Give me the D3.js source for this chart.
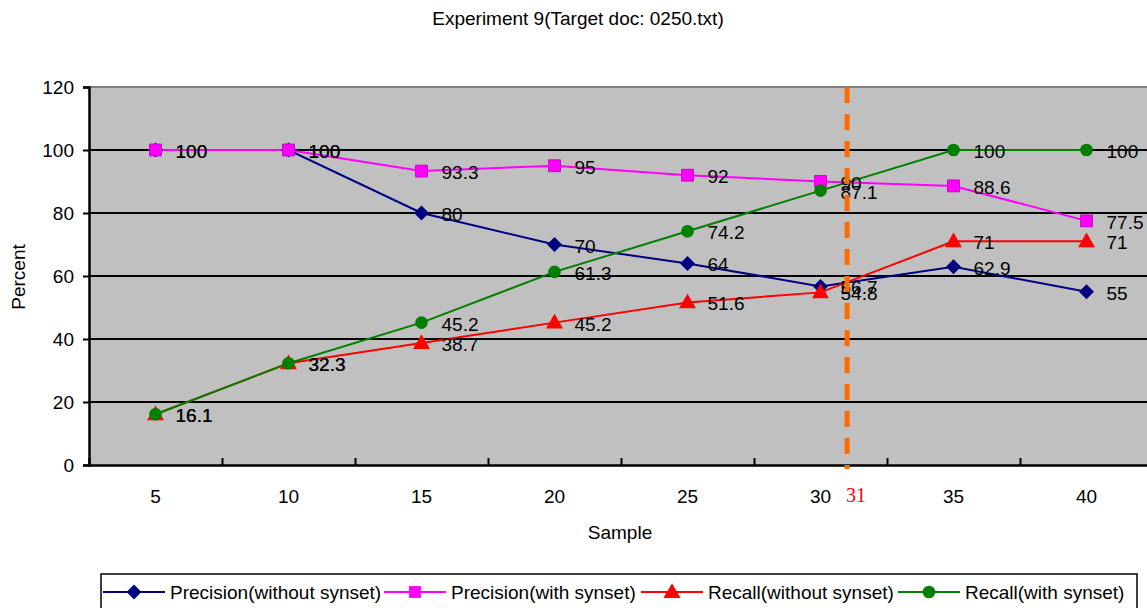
<!DOCTYPE html>
<html>
<head>
<meta charset="utf-8">
<script src="https://cdn.jsdelivr.net/npm/d3@7"></script>
<style>
  body { margin: 0; background: #fff; }
  text { font-family: "Liberation Sans", Arial, sans-serif; }
</style>
</head>
<body>
<svg id="chart" width="1147" height="608"></svg>
<script>
// chart data
var samples = [5, 10, 15, 20, 25, 30, 35, 40];
var precisionWithout = [100, 100, 80, 70, 64, 56.7, 62.9, 55];
var precisionWith = [100, 100, 93.3, 95, 92, 90, 88.6, 77.5];
var recallWithout = [16.1, 32.3, 38.7, 45.2, 51.6, 54.8, 71, 71];
var recallWith = [16.1, 32.3, 45.2, 61.3, 74.2, 87.1, 100, 100];
var yTicks = [0, 20, 40, 60, 80, 100, 120];
var markLine = 31;

var series = [
  {name: "Precision(without synset)", values: precisionWithout, color: "#000080", marker: "diamond"},
  {name: "Precision(with synset)", values: precisionWith, color: "#ff00ff", marker: "square"},
  {name: "Recall(without synset)", values: recallWithout, color: "#ff0000", marker: "triangle"},
  {name: "Recall(with synset)", values: recallWith, color: "#008000", marker: "circle"}
];

var svg = d3.select("#chart");
var plotLeft = 89, plotTop = 87, plotBottom = 465, plotRight = 1153;

var x = d3.scaleLinear().domain([2.5, 42.5]).range([plotLeft, plotRight]);
var y = d3.scaleLinear().domain([0, 120]).range([plotBottom, plotTop]);

// title
svg.append("text")
  .attr("x", 578).attr("y", 25)
  .attr("text-anchor", "middle")
  .style("font-size", "19px")
  .text("Experiment 9(Target doc: 0250.txt)");

// plot area
svg.append("rect")
  .attr("x", plotLeft).attr("y", plotTop)
  .attr("width", plotRight - plotLeft).attr("height", plotBottom - plotTop)
  .attr("fill", "#c0c0c0");

// top border
svg.append("line")
  .attr("x1", plotLeft).attr("x2", plotRight)
  .attr("y1", plotTop).attr("y2", plotTop)
  .attr("stroke", "#808080").attr("stroke-width", 2);

// gridlines
svg.append("g").selectAll("line")
  .data(yTicks.filter(function(d) { return d > 0 && d < 120; }))
  .enter().append("line")
  .attr("x1", plotLeft).attr("x2", plotRight)
  .attr("y1", function(d) { return y(d); })
  .attr("y2", function(d) { return y(d); })
  .attr("stroke", "#000").attr("stroke-width", 2);

// y axis
var yAxis = d3.axisLeft(y).tickValues(yTicks).tickSize(6).tickPadding(9);
var gy = svg.append("g").attr("transform", "translate(" + plotLeft + ",0)").call(yAxis);
gy.select(".domain").attr("stroke", "#000").attr("stroke-width", 2.5);
gy.selectAll(".tick line").attr("stroke", "#000").attr("stroke-width", 2);
gy.selectAll(".tick text").attr("fill", "#000")
  .style("font-size", "19px")
  .style("font-family", "Liberation Sans, Arial, sans-serif");

// x axis: boundary ticks inside the plot, labels at the categories
var boundaries = samples.slice(0, -1).map(function(d) { return d + 2.5; });
var xAxis = d3.axisBottom(x).tickValues(boundaries).tickSize(-7).tickFormat("");
var gx = svg.append("g").attr("transform", "translate(0," + plotBottom + ")").call(xAxis);
gx.select(".domain").attr("stroke", "#000").attr("stroke-width", 2.5);
gx.selectAll(".tick line").attr("stroke", "#000").attr("stroke-width", 2);

svg.append("g").selectAll("text")
  .data(samples)
  .enter().append("text")
  .attr("x", function(d) { return x(d); })
  .attr("y", 503)
  .attr("text-anchor", "middle")
  .style("font-size", "19px")
  .text(function(d) { return d; });

// axis titles
svg.append("text")
  .attr("x", 620).attr("y", 539)
  .attr("text-anchor", "middle")
  .style("font-size", "19px")
  .text("Sample");

svg.append("text")
  .attr("transform", "translate(25,277) rotate(-90)")
  .attr("text-anchor", "middle")
  .style("font-size", "19px")
  .text("Percent");

// marker symbols (excel-like: the diamond is a square turned 45 degrees)
function markerPath(type) {
  if (type == "diamond") return "M0,-7.5L7.5,0L0,7.5L-7.5,0Z";
  var sym = {
    square: d3.symbol().type(d3.symbolSquare).size(140),
    triangle: d3.symbol().type(d3.symbolTriangle).size(125),
    circle: d3.symbol().type(d3.symbolCircle).size(125)
  };
  return sym[type]();
}

var line = d3.line()
  .x(function(d, i) { return x(samples[i]); })
  .y(function(d) { return y(d); });

series.forEach(function(s) {
  svg.append("path")
    .datum(s.values)
    .attr("d", line)
    .attr("fill", "none")
    .attr("stroke", s.color)
    .attr("stroke-width", 2);
});

series.forEach(function(s) {
  svg.append("g").selectAll("path")
    .data(s.values)
    .enter().append("path")
    .attr("d", markerPath(s.marker))
    .attr("transform", function(d, i) {
      return "translate(" + x(samples[i]) + "," + (y(d) + (s.marker == "triangle" ? 1 : 0)) + ")";
    })
    .attr("fill", s.color)
    .attr("stroke", s.marker == "square" ? "#cc00cc" : "none");
});

// value labels
series.forEach(function(s) {
  svg.append("g").selectAll("text")
    .data(s.values)
    .enter().append("text")
    .attr("x", function(d, i) { return x(samples[i]) + 20; })
    .attr("y", function(d) { return y(d) + 8; })
    .style("font-size", "19px")
    .attr("fill", "#000")
    .text(function(d) { return d; });
});

// dashed marker line at sample 31
svg.append("line")
  .attr("x1", x(markLine)).attr("x2", x(markLine))
  .attr("y1", plotTop).attr("y2", plotBottom + 4)
  .attr("stroke", "#ff6a00")
  .attr("stroke-width", 5)
  .attr("stroke-dasharray", "16,11");

svg.append("text")
  .attr("x", x(markLine) + 9).attr("y", 502)
  .attr("text-anchor", "middle")
  .attr("fill", "#ff0000")
  .style("font-family", "Liberation Serif, Times New Roman, serif")
  .style("font-size", "20px")
  .text(markLine);

// legend
var legend = svg.append("g");
legend.append("rect")
  .attr("x", 101).attr("y", 574)
  .attr("width", 1036).attr("height", 36)
  .attr("fill", "#fff").attr("stroke", "#000").attr("stroke-width", 1.5);

var legendX = [103, 384, 641, 898];
series.forEach(function(s, i) {
  var g = legend.append("g").attr("transform", "translate(" + legendX[i] + ",592)");
  g.append("line").attr("x1", 0).attr("x2", 62)
    .attr("stroke", s.color).attr("stroke-width", 2);
  g.append("path").attr("d", markerPath(s.marker))
    .attr("transform", "translate(31," + (s.marker == "triangle" ? 1 : 0) + ")")
    .attr("fill", s.color);
  g.append("text").attr("x", 67).attr("y", 7)
    .style("font-size", "19px")
    .text(s.name);
});
</script>
</body>
</html>
